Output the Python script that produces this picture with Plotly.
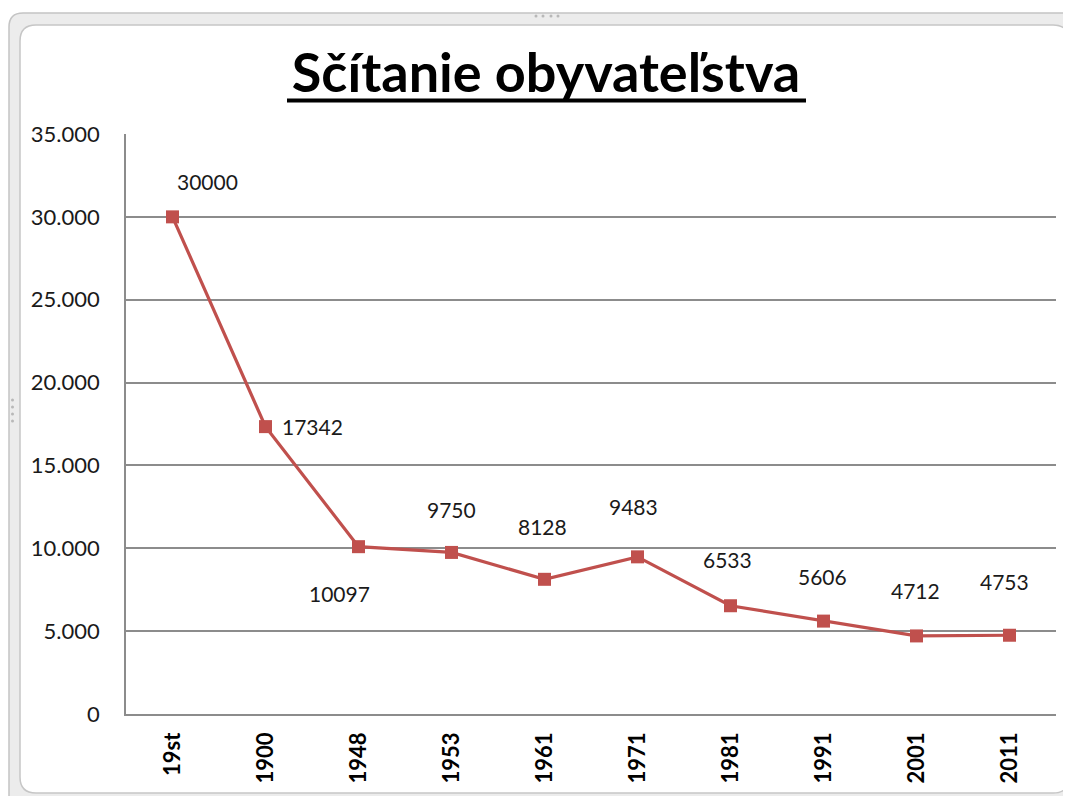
import plotly.graph_objects as go

categories = ["19st", "1900", "1948", "1953", "1961", "1971", "1981", "1991", "2001", "2011"]
population = [30000, 17342, 10097, 9750, 8128, 9483, 6533, 5606, 4712, 4753]
y_ticks = [0, 5000, 10000, 15000, 20000, 25000, 30000, 35000]

# label offsets (pixels) relative to each marker
label_dx = [35, 47, -19, 0, -2, -4, -3, -1, -1, -5]
label_dy = [35, 0, -47, 43, 53, 50, 46, 45, 45, 54]

# page body margin in the browser shifts the figure by OFF px
OFF = 8
W, H = 1071 - OFF, 796 - OFF
# plot area in reference (screen) pixel coordinates
L, R, T, B = 126, 1056, 134, 714
LINE_RED = "#C0504D"
FONT = "Lato"


def px(x):
    return (x - L) / (R - L)


def py(y):
    return (B - y) / (B - T)


def rounded_rect(x0, y0, x1, y1, r):
    pts = [
        f"M {px(x0 + r)},{py(y0)}",
        f"L {px(x1 - r)},{py(y0)}",
        f"Q {px(x1)},{py(y0)} {px(x1)},{py(y0 + r)}",
        f"L {px(x1)},{py(y1 - r)}",
        f"Q {px(x1)},{py(y1)} {px(x1 - r)},{py(y1)}",
        f"L {px(x0 + r)},{py(y1)}",
        f"Q {px(x0)},{py(y1)} {px(x0)},{py(y1 - r)}",
        f"L {px(x0)},{py(y0 + r)}",
        f"Q {px(x0)},{py(y0)} {px(x0 + r)},{py(y0)} Z",
    ]
    return " ".join(pts)


fig = go.Figure()
fig.add_trace(go.Scatter(
    x=categories, y=population, mode="lines+markers",
    line=dict(color=LINE_RED, width=3.2),
    marker=dict(symbol="square", size=13, color=LINE_RED),
    hoverinfo="skip", showlegend=False,
))

annotations = []
for i, (v, dx, dy) in enumerate(zip(population, label_dx, label_dy)):
    annotations.append(dict(
        x=i, y=v, xref="x", yref="y", text=str(v), showarrow=False,
        xshift=dx, yshift=dy, font=dict(family=FONT, size=21, color="#1a1a1a"),
    ))

shapes = [
    dict(type="path", xref="paper", yref="paper", layer="below",
         path=rounded_rect(9, 13, 1090, 810, 14),
         fillcolor="#ececec", line=dict(color="#c4c4c4", width=1.5)),
    dict(type="path", xref="paper", yref="paper", layer="below",
         path=rounded_rect(20, 25, 1069, 793, 16),
         fillcolor="#ffffff", line=dict(color="#c6c6c6", width=1.5)),
    # title underline
    dict(type="line", xref="paper", yref="paper",
         x0=px(287), x1=px(806), y0=py(100.5), y1=py(100.5),
         line=dict(color="black", width=4)),
]
# grip dots on the frame
for gx in [536, 543, 551, 558]:
    shapes.append(dict(type="circle", xref="paper", yref="paper",
                       x0=px(gx - 1.5), x1=px(gx + 1.5), y0=py(16 - 1.5), y1=py(16 + 1.5),
                       fillcolor="#b8b8b8", line=dict(width=0)))
for gy in [400, 407, 414, 421]:
    shapes.append(dict(type="circle", xref="paper", yref="paper",
                       x0=px(12.5 - 1.5), x1=px(12.5 + 1.5), y0=py(gy - 1.5), y1=py(gy + 1.5),
                       fillcolor="#b8b8b8", line=dict(width=0)))

fig.update_layout(
    width=W, height=H,
    margin=dict(l=L - OFF, r=W - (R - OFF), t=T - OFF, b=H - (B - OFF)),
    paper_bgcolor="white", plot_bgcolor="rgba(0,0,0,0)",
    separators=",.",
    title=dict(text="<b>Sčítanie obyvateľstva</b>", x=px(546), xref="paper", xanchor="center",
               y=1 - (73 - OFF) / H, yanchor="middle",
               font=dict(family=FONT, size=54, color="black")),
    xaxis=dict(
        type="category", range=[-0.5, 9.5], showgrid=False,
        showline=True, linecolor="#8c8c8c", linewidth=1.5,
        ticks="", tickangle=-90, ticklabelstandoff=8,
        tickfont=dict(family=FONT, size=22, color="black", weight="bold"),
    ),
    yaxis=dict(
        range=[0, 35000], tickvals=y_ticks, tickformat=",d",
        showgrid=True, gridcolor="#8c8c8c", gridwidth=1.5,
        showline=True, linecolor="#8c8c8c", linewidth=1.5,
        zeroline=False, ticks="", ticklabelstandoff=20,
        tickfont=dict(family=FONT, size=22, color="#1a1a1a"),
    ),
    annotations=annotations,
    shapes=shapes,
)

fig.write_html("out.html")
